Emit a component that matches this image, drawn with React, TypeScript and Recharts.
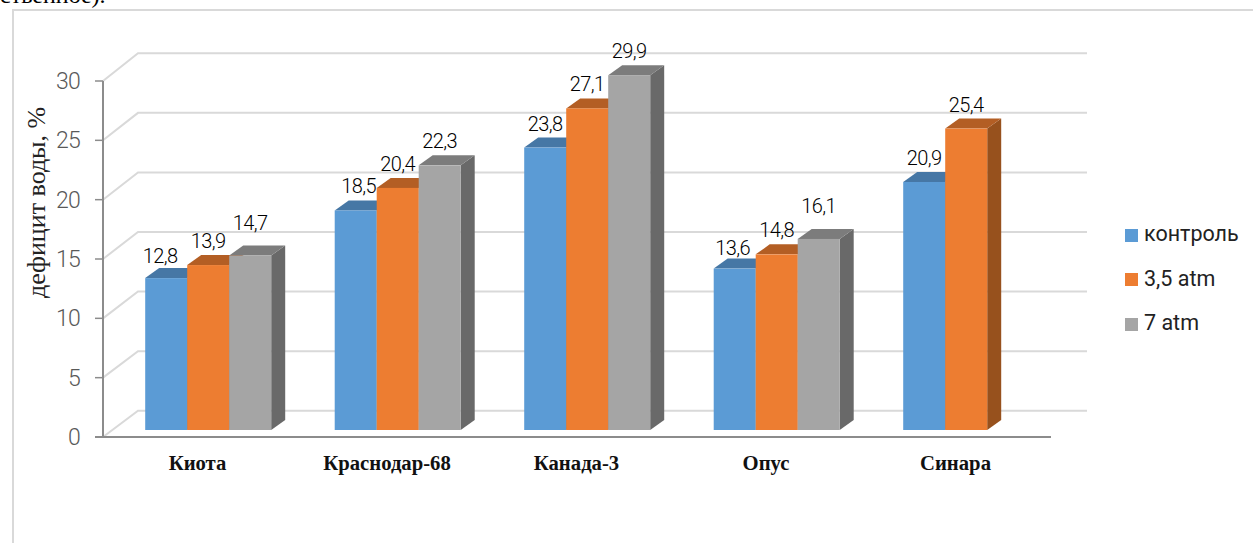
import { BarChart, Bar, XAxis, YAxis, CartesianGrid, LabelList, Legend } from "recharts"

const varieties = ["Киота", "Краснодар-68", "Канада-3", "Опус", "Синара"]
const control = [12.8, 18.5, 23.8, 13.6, 20.9]
const atm35 = [13.9, 20.4, 27.1, 14.8, 25.4]
const atm7 = [14.7, 22.3, 29.9, 16.1, null]
const yTicks = [0, 5, 10, 15, 20, 25, 30]

const chartData = varieties.map((name, i) => ({
  name,
  control: control[i],
  atm35: atm35[i],
  atm7: atm7[i],
}))

// псевдо-3D: глубина столбца и задней стенки
const DEPTH_X = 14
const DEPTH_Y = 10
const AXIS_X = 103
const WALL_X = 138
const GRID_END = 1087
const FRONT_DY = 7
const AXIS_END = 1051

const labelFont = "Roboto, sans-serif"

// подписи, сдвинутые вручную в оригинале: значение -> [dx, dy]
const labelNudge: Record<number, [number, number]> = {
  12.8: [-6, 2],
  13.6: [-2, 3],
  14.7: [0, -9],
  16.1: [0, -9],
  18.5: [3, 0],
}

const wallY = (y: number) => y - 19.3 - (430 - y) * 0.004

const fmt = (v: number) => String(v).replace(".", ",")

const Bar3D = (top: string, side: string) => (props: any) => {
  const { x, y, width, height, fill } = props
  if (!height) return null
  const r = x + width
  const b = y + height
  return (
    <g>
      <polygon points={`${r},${y} ${r + DEPTH_X},${y - DEPTH_Y} ${r + DEPTH_X},${b - DEPTH_Y} ${r},${b}`} fill={side} />
      <polygon points={`${x},${y} ${x + DEPTH_X},${y - DEPTH_Y} ${r + DEPTH_X},${y - DEPTH_Y} ${r},${y}`} fill={top} />
      <rect x={x} y={y} width={width} height={height} fill={fill} />
    </g>
  )
}

const GridLine = (props: any) => {
  const y = props.y1
  return (
    <polyline
      key={props.key ?? y}
      points={`${AXIS_X},${y + FRONT_DY} ${WALL_X},${wallY(y)} ${GRID_END},${wallY(y)}`}
      fill="none"
      stroke="#d9d9d9"
      strokeWidth={2}
    />
  )
}

const YTick = ({ y, payload }: any) => (
  <g>
    <line x1={AXIS_X - 8} x2={AXIS_X} y1={y + FRONT_DY} y2={y + FRONT_DY} stroke="#8c8c8c" strokeWidth={1.5} />
    <text x={80} y={y + FRONT_DY + 8} textAnchor="end" fontFamily={labelFont} fontWeight={300} fontSize={23} letterSpacing={-0.8} fill="#595959">
      {payload.value}
    </text>
  </g>
)

const XTick = ({ x, y, payload }: any) => (
  <text x={x - 11} y={y} textAnchor="middle" fontFamily="'Liberation Serif', serif" fontWeight="bold" fontSize={20.7} fill="#111">
    {payload.value}
  </text>
)

const ValueLabel = (props: any) => {
  const { x, y, width, value } = props
  if (value == null) return null
  const [dx, dy] = labelNudge[value] ?? [0, 0]
  return (
    <text x={x + width / 2 + dx} y={y - 17 + dy} textAnchor="middle" fontFamily={labelFont} fontWeight={300} fontSize={20} letterSpacing={-0.6} fill="#000">
      {fmt(value)}
    </text>
  )
}

export default function App() {
  return (
    <div style={{ position: "absolute", left: 0, top: 0, width: 1253, height: 543, overflow: "hidden", background: "#fff" }}>
      <div style={{ position: "absolute", left: 12, top: 9, width: 1260, height: 560, border: "2px solid #d9d9d9" }} />
      <div style={{ position: "absolute", left: 0, top: -18, fontFamily: "'Liberation Serif', serif", fontSize: 24, color: "#000", whiteSpace: "nowrap" }}>
        ственное).
      </div>
      <BarChart
        width={1253}
        height={543}
        data={chartData}
        margin={{ top: 74, right: 61.75, bottom: 0, left: 0 }}
        barCategoryGap="16.6%"
        barGap={0}
        style={{ position: "absolute", left: 0, top: 0 }}
      >
        <CartesianGrid vertical={false} horizontal={GridLine} />
        <line x1={AXIS_X} x2={AXIS_X} y1={81} y2={437} stroke="#8c8c8c" strokeWidth={2} />
        <line x1={AXIS_X - 8} x2={AXIS_END} y1={437} y2={437} stroke="#8c8c8c" strokeWidth={2} />
        <XAxis dataKey="name" height={113} axisLine={false} tickLine={false} tickMargin={34} tick={XTick} interval={0} />
        <YAxis
          width={113.75}
          domain={[0, 30]}
          ticks={yTicks}
          axisLine={false}
          tickLine={false}
          tick={YTick}
          label={{
            value: "дефицит воды, %",
            angle: -90,
            position: "insideLeft",
            offset: 0,
            dx: 36,
            dy: 46,
            style: { fontFamily: "'Liberation Serif', serif", fontSize: 26, fill: "#222" },
          }}
        />
        <Legend
          layout="vertical"
          align="right"
          verticalAlign="top"
          iconType="square"
          iconSize={13}
          itemSorter={null}
          wrapperStyle={{ position: "absolute", left: 1125, top: 212, width: 130, lineHeight: "44.5px", fontFamily: labelFont, fontSize: 21.5 }}
          formatter={(v: string) => <span style={{ color: "#222", marginLeft: 2 }}>{v}</span>}
        />
        <Bar dataKey="control" name="контроль" fill="#5b9bd5" shape={Bar3D("#4677a5", "#3f6f9b")} isAnimationActive={false}>
          <LabelList dataKey="control" content={ValueLabel} />
        </Bar>
        <Bar dataKey="atm35" name="3,5 atm" fill="#ed7d31" shape={Bar3D("#b35e24", "#97511d")} isAnimationActive={false}>
          <LabelList dataKey="atm35" content={ValueLabel} />
        </Bar>
        <Bar dataKey="atm7" name="7 atm" fill="#a5a5a5" shape={Bar3D("#7c7c7c", "#696969")} isAnimationActive={false}>
          <LabelList dataKey="atm7" content={ValueLabel} />
        </Bar>
      </BarChart>
    </div>
  )
}
